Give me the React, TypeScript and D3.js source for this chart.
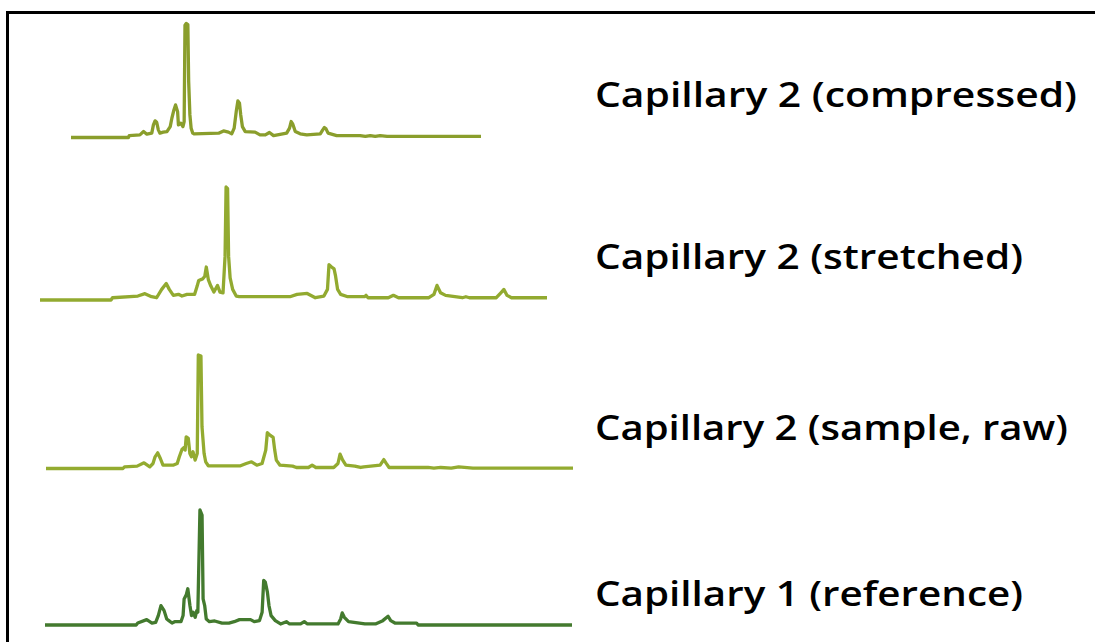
import React from "react";
import * as d3 from "d3";

// Electropherogram traces: [time (% of run), intensity (% of main peak)]
const compressed: [number, number][] = [
  [0, 0], [14.0, 0], [14.2, 1.7], [16.8, 2.3], [17.7, 5.2], [18.5, 2.9], [19.7, 3.8],
  [20.1, 11.1], [20.5, 14.6], [20.9, 13.4], [21.3, 6.7], [21.7, 3.8], [22.5, 4.7],
  [23.4, 5.2], [24.2, 9.6], [24.6, 16.9], [25.1, 24.2], [25.5, 28.6], [26.0, 22.7],
  [26.2, 11.1], [26.8, 12.5], [27.3, 9.6], [27.6, 14.0], [27.8, 98.5], [28.1, 100],
  [28.5, 99.1], [28.7, 49.0], [29.0, 19.8], [29.3, 8.2], [29.7, 3.8], [30.0, 3.2],
  [36.0, 3.8], [37.2, 5.8], [38.4, 4.7], [39.2, 3.2], [39.8, 8.2], [40.3, 22.7],
  [40.7, 32.1], [41.1, 30.0], [41.4, 19.8], [41.8, 9.6], [42.5, 5.2], [44.9, 4.7],
  [46.1, 2.3], [47.4, 2.3], [48.4, 4.4], [49.4, 1.7], [52.6, 3.8], [53.3, 8.2],
  [53.7, 14.0], [54.1, 11.7], [54.7, 5.2], [55.9, 3.2], [57.5, 2.3], [60.8, 3.2],
  [61.4, 6.7], [61.8, 8.7], [62.2, 7.6], [62.7, 3.8], [64.8, 1.7], [70.5, 1.7],
  [71.8, 0.9], [73.0, 1.7], [74.2, 0.9], [75.4, 1.7], [77.1, 0.9], [100, 0.9],
];

const stretched: [number, number][] = [
  [0, 0], [14.0, 0], [14.3, 2.0], [19.3, 3.5], [20.7, 5.6], [22.0, 2.9], [23.0, 2.0],
  [24.0, 9.4], [24.9, 14.6], [25.5, 9.4], [26.3, 4.1], [27.3, 5.0], [28.0, 3.5],
  [29.0, 5.0], [30.5, 5.0], [31.0, 12.3], [31.3, 17.3], [32.1, 18.7], [32.5, 21.1],
  [32.8, 29.2], [33.2, 18.1], [33.7, 12.3], [34.3, 7.0], [35.0, 12.9], [35.5, 7.0],
  [36.1, 6.4], [36.5, 38.6], [36.7, 100], [37.0, 98.5], [37.2, 38.6], [37.5, 19.6],
  [38.0, 9.4], [38.7, 3.5], [39.3, 2.9], [49.3, 2.9], [50.7, 5.0], [52.7, 5.8],
  [54.3, 2.0], [56.0, 3.5], [56.7, 9.4], [57.0, 31.3], [57.5, 29.2], [58.0, 27.5],
  [58.3, 21.1], [58.7, 9.4], [59.3, 5.0], [60.7, 2.9], [64.0, 2.9], [64.3, 4.1],
  [64.7, 2.0], [68.7, 2.0], [69.7, 4.1], [70.7, 2.0], [76.7, 2.0], [77.7, 5.0],
  [78.3, 12.9], [79.0, 6.4], [80.0, 4.1], [83.3, 2.0], [84.0, 2.9], [84.7, 2.0],
  [90.0, 2.0], [90.9, 6.4], [91.5, 9.4], [92.1, 4.1], [93.0, 2.0], [100, 2.0],
];

const sampleRaw: [number, number][] = [
  [0, 0], [14.6, 0], [14.9, 1.5], [17.3, 2.1], [18.6, 5.0], [19.7, 1.5], [20.3, 4.4],
  [20.7, 10.3], [21.2, 13.8], [21.7, 8.8], [22.2, 2.9], [23.1, 2.9], [24.1, 2.9],
  [24.9, 4.4], [25.3, 10.3], [25.8, 16.8], [26.1, 18.2], [26.4, 16.2], [26.6, 27.9],
  [27.0, 26.5], [27.3, 13.2], [27.6, 10.3], [27.9, 14.7], [28.3, 7.4], [28.7, 13.2],
  [28.9, 100], [29.4, 99.1], [29.6, 36.8], [30.0, 13.2], [30.3, 5.9], [30.8, 2.4],
  [36.9, 2.4], [38.0, 4.4], [39.0, 5.9], [40.0, 2.9], [41.0, 4.4], [41.7, 16.2],
  [42.0, 31.5], [42.5, 29.4], [43.1, 27.4], [43.4, 16.2], [43.7, 7.4], [44.4, 2.9],
  [46.8, 2.1], [47.5, 0.9], [49.8, 0.9], [50.5, 2.9], [51.2, 0.9], [54.6, 0.9],
  [55.4, 4.4], [55.8, 12.6], [56.3, 7.4], [56.9, 2.9], [58.6, 2.1], [59.7, 0.9],
  [60.3, 1.5], [63.4, 2.9], [64.1, 7.9], [64.5, 5.0], [65.1, 0.9], [72.5, 0.9],
  [73.6, 0.3], [74.9, 0.9], [76.9, 0.3], [78.3, 1.5], [81.0, 0.3], [100, 0.3],
];

const reference: [number, number][] = [
  [0, 0], [17.3, 0], [17.6, 1.7], [19.3, 4.7], [20.3, 1.7], [21.0, 2.3], [21.5, 8.2],
  [22.0, 16.9], [22.6, 12.5], [23.1, 5.2], [23.5, 3.8], [24.1, 1.7], [24.6, 2.9],
  [25.8, 2.9], [26.2, 8.2], [26.4, 22.7], [26.8, 26.2], [27.1, 31.5], [27.5, 16.9],
  [27.8, 8.2], [28.1, 11.1], [28.5, 6.7], [28.8, 12.5], [29.0, 11.1], [29.4, 100],
  [29.8, 95.6], [30.0, 22.7], [30.3, 16.9], [30.6, 5.2], [31.2, 2.9], [32.2, 3.5],
  [33.6, 1.7], [34.9, 1.7], [35.9, 2.9], [36.9, 4.7], [39.0, 4.7], [39.7, 2.9],
  [40.7, 3.8], [41.2, 11.1], [41.5, 38.8], [41.8, 37.3], [42.2, 28.6], [42.5, 16.9],
  [42.9, 8.2], [43.7, 3.8], [44.7, 0.9], [45.8, 2.9], [46.4, 0.9], [48.5, 0.9],
  [49.2, 2.9], [49.8, 0.9], [55.6, 0.9], [56.1, 5.2], [56.4, 10.5], [56.8, 6.7],
  [57.6, 2.9], [60.7, 0.9], [62.7, 0.9], [64.1, 3.8], [65.1, 7.6], [65.6, 3.8],
  [66.4, 1.7], [70.5, 1.7], [70.8, 0], [100, 0],
];

const labels = [
  "Capillary 2 (compressed)",
  "Capillary 2 (stretched)",
  "Capillary 2 (sample, raw)",
  "Capillary 1 (reference)",
];

const seriesData = [compressed, stretched, sampleRaw, reference];

// Layout of each stacked panel
const panels = [
  { x0: 71, x1: 481, base: 137.5, top: 23.5, color: "#8a9e2c", labelY: 107, labelW: 482 },
  { x0: 40, x1: 547, base: 300, top: 187, color: "#92aa30", labelY: 269, labelW: 428 },
  { x0: 46, x1: 573, base: 468.5, top: 355, color: "#93ab30", labelY: 440, labelW: 473 },
  { x0: 45, x1: 572, base: 625, top: 510, color: "#437a2e", labelY: 606, labelW: 428 },
];

export default function App() {
  const W = 1095;
  const H = 642;
  return (
    <svg
      width={W}
      height={H}
      style={{ position: "absolute", left: 0, top: 0, background: "#fff" }}
    >
      <rect x={0} y={0} width={W} height={H} fill="#fff" />
      <rect x={7.5} y={12.5} width={W + 20} height={H + 20} fill="none" stroke="#000" strokeWidth={3} />
      {seriesData.map((data, i) => {
        const p = panels[i];
        const x = d3.scaleLinear().domain([0, 100]).range([p.x0, p.x1]);
        const y = d3.scaleLinear().domain([0, 100]).range([p.base, p.top]);
        const line = d3
          .line<[number, number]>()
          .x((d) => x(d[0]))
          .y((d) => y(d[1]));
        return (
          <g key={i}>
            <path
              d={line(data) ?? ""}
              fill="none"
              stroke={p.color}
              strokeWidth={3.3}
              strokeLinejoin="round"
            />
            <text
              x={595}
              y={p.labelY}
              fontFamily="'Open Sans', sans-serif"
              fontWeight={600}
              fontSize={34}
              fill="#000"
              textLength={p.labelW}
              lengthAdjust="spacingAndGlyphs"
            >
              {labels[i]}
            </text>
          </g>
        );
      })}
    </svg>
  );
}
